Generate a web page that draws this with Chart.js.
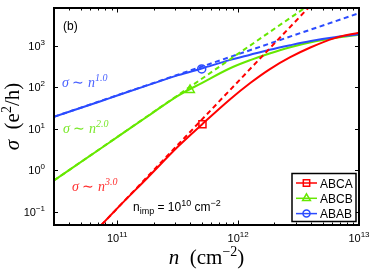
<!DOCTYPE html>
<html>
<head>
<meta charset="utf-8">
<script src="https://cdn.jsdelivr.net/npm/chart.js@4.4.0/dist/chart.umd.min.js"></script>
<style>
  html, body { margin: 0; padding: 0; background: #fff; }
</style>
</head>
<body>
<canvas id="chart" width="374" height="272"></canvas>
<script>
// carrier density n (cm^-2) and conductivity sigma (e^2/h)
const densities = [3e10, 7.4e10, 1e11, 1.8e11, 3.2e11, 5e11, 8.5e11, 1.26e12, 1.82e12, 2.7e12, 4e12, 6.3e12, 1e13];
const sigmaABCA = [null, 0.049, 0.123, 0.69, 3.8, 12.6, 50, 126, 269, 525, 912, 1514, 2042];
const sigmaABCB = [0.575, 3.47, 6.31, 20.4, 63.1, 126, 282, 447, 646, 912, 1202, 1514, 1820];
const sigmaABAB = [19.5, 46.8, 63.1, 112, 195, 282, 447, 603, 794, 1023, 1288, 1585, 1862];

// dashed power-law guides (end points)
const fitABCA_n = [7.4e10, 3.8e12], fitABCA_s = [0.049, 8000];
const fitABCB_n = [3e10, 3.55e12], fitABCB_s = [0.575, 8000];
const fitABAB_n = [3e10, 1e13],    fitABAB_s = [19.5, 6000];

// one marker per curve
const markerN = [5.07e11, 4e11, 5e11];
const markerSigma = [12.9, 86, 275];

const seriesNames = ['ABCA', 'ABCB', 'ABAB'];
const powerLabels = ['3.0', '2.0', '1.0'];
const xDecades = [11, 12, 13];
const yDecades = [-1, 0, 1, 2, 3];

const colors = ['#ff0000', '#66e800', '#2b4bff'];
const textColors = ['#ff3030', '#7ae82a', '#4a62ff'];
const pointStyles = ['rect', 'triangle', 'circle'];
const pointSizes = [5, 5, 4];

const SANS = '"Liberation Sans", Arial, sans-serif';
const SERIF = '"Liberation Serif", "Times New Roman", serif';

function pts(xs, ys) {
    return xs.map((v, i) => ({ x: v, y: ys[i] }));
}

const solids = [sigmaABCA, sigmaABCB, sigmaABAB];
const fitsN = [fitABCA_n, fitABCB_n, fitABAB_n];
const fitsS = [fitABCA_s, fitABCB_s, fitABAB_s];

const datasets = [];
// markers (drawn on top)
seriesNames.forEach((name, i) => {
    datasets.push({
        label: name + ' marker',
        data: [{ x: markerN[i], y: markerSigma[i] }],
        showLine: false,
        pointStyle: pointStyles[i],
        pointRadius: pointSizes[i],
        pointBorderColor: colors[i],
        pointBackgroundColor: 'rgba(255,255,255,0)',
        pointBorderWidth: 1.5
    });
});
// dashed guides
seriesNames.forEach((name, i) => {
    datasets.push({
        label: name + ' fit',
        data: pts(fitsN[i], fitsS[i]),
        borderColor: colors[i],
        borderWidth: 2,
        borderDash: [5, 3.5],
        pointRadius: 0,
        fill: false
    });
});
// solid curves (blue above green)
[0, 2, 1].forEach(i => {
    datasets.push({
        label: seriesNames[i],
        data: pts(densities, solids[i]),
        borderColor: colors[i],
        borderWidth: 2,
        pointRadius: 0,
        fill: false,
        cubicInterpolationMode: 'monotone'
    });
});

function drawRuns(ctx, runs, x, y, align) {
    let total = 0;
    runs.forEach(r => { ctx.font = r.font; r.w = ctx.measureText(r.text).width; total += r.w; });
    let cx = align === 'right' ? x - total : align === 'center' ? x - total / 2 : x;
    ctx.textAlign = 'left';
    ctx.textBaseline = 'alphabetic';
    runs.forEach(r => {
        ctx.font = r.font;
        ctx.fillStyle = r.color || '#000';
        ctx.fillText(r.text, cx, y + (r.dy || 0));
        cx += r.w;
    });
}

function powRuns(exp) {
    return [
        { text: '10', font: '11px ' + SANS },
        { text: exp, font: '8px ' + SANS, dy: -5 }
    ];
}

const decorations = {
    id: 'decorations',
    afterDatasetsDraw(chart) {
        const { ctx, chartArea: a, scales } = chart;
        const xs = scales.x, ys = scales.y;
        ctx.save();

        // frame
        ctx.strokeStyle = '#000';
        ctx.lineWidth = 2;
        ctx.strokeRect(a.left, a.top, a.right - a.left, a.bottom - a.top);

        // x ticks, inward on bottom and top
        ctx.lineWidth = 1;
        ctx.beginPath();
        for (let d = 10; d <= 12; d++) {
            for (let m = 1; m <= 9; m++) {
                const v = m * Math.pow(10, d);
                if (v <= xs.min || v >= xs.max) continue;
                const px = Math.round(xs.getPixelForValue(v)) + 0.5;
                const len = m === 1 ? 4.5 : 2.5;
                ctx.moveTo(px, a.bottom); ctx.lineTo(px, a.bottom - len);
                ctx.moveTo(px, a.top); ctx.lineTo(px, a.top + len);
            }
        }
        // y ticks (decades only), inward on left and right
        yDecades.forEach(e => {
            const py = Math.round(ys.getPixelForValue(Math.pow(10, e))) + 0.5;
            ctx.moveTo(a.left, py); ctx.lineTo(a.left + 4, py);
            ctx.moveTo(a.right, py); ctx.lineTo(a.right - 4, py);
        });
        ctx.stroke();

        // tick labels
        yDecades.forEach(e => {
            const py = ys.getPixelForValue(Math.pow(10, e));
            drawRuns(ctx, powRuns(String(e).replace('-', '\u2212')), a.left - 9, py + 4, 'right');
        });
        xDecades.forEach(e => {
            const px = xs.getPixelForValue(Math.pow(10, e));
            drawRuns(ctx, powRuns(String(e)), px, a.bottom + 17, 'center');
        });

        // axis titles
        drawRuns(ctx, [
            { text: 'n', font: 'italic 21px ' + SERIF },
            { text: '  (cm', font: '21px ' + SERIF },
            { text: '\u22122', font: '14px ' + SERIF, dy: -8 },
            { text: ')', font: '21px ' + SERIF }
        ], (a.left + a.right) / 2, 264, 'center');

        ctx.save();
        ctx.translate(19, (a.top + a.bottom) / 2);
        ctx.rotate(-Math.PI / 2);
        drawRuns(ctx, [
            { text: '\u03c3', font: 'italic 21px ' + SERIF },
            { text: '  (e', font: '21px ' + SERIF },
            { text: '2', font: '14px ' + SERIF, dy: -8 },
            { text: '/h)', font: '21px ' + SERIF }
        ], 0, 0, 'center');
        ctx.restore();

        // panel tag
        drawRuns(ctx, [{ text: '(b)', font: '12px ' + SANS }], a.left + 9, a.top + 22, 'left');

        // power-law annotations
        const annX = [72, 63, 62];
        const annY = [191, 133, 87];
        seriesNames.forEach((name, i) => {
            drawRuns(ctx, [
                { text: '\u03c3', font: 'italic 14px ' + SERIF, color: textColors[i] },
                { text: ' \u223c ', font: '14px ' + SERIF, color: textColors[i] },
                { text: 'n', font: 'italic 14px ' + SERIF, color: textColors[i] },
                { text: powerLabels[i], font: 'italic 10px ' + SERIF, color: textColors[i], dy: -6 }
            ], annX[i], annY[i], 'left');
        });

        // impurity density note
        drawRuns(ctx, [
            { text: 'n', font: '12px ' + SANS },
            { text: 'imp', font: '9px ' + SANS, dy: 3 },
            { text: ' = 10', font: '12px ' + SANS },
            { text: '10', font: '9px ' + SANS, dy: -5 },
            { text: ' cm', font: '12px ' + SANS },
            { text: '\u22122', font: '9px ' + SANS, dy: -5 }
        ], 133, 211, 'left');

        // legend box
        const lx = 292, ly = 173.5, lw = 64, lh = 48;
        ctx.fillStyle = '#fff';
        ctx.fillRect(lx, ly, lw, lh);
        ctx.strokeStyle = '#000';
        ctx.lineWidth = 1.5;
        ctx.strokeRect(lx, ly, lw, lh);
        seriesNames.forEach((name, i) => {
            const ry = 183 + i * 15.3;
            ctx.strokeStyle = colors[i];
            ctx.lineWidth = 1.5;
            ctx.beginPath();
            ctx.moveTo(296, ry); ctx.lineTo(317, ry);
            ctx.stroke();
            ctx.fillStyle = 'rgba(255,255,255,0)';
            Chart.helpers.drawPoint(ctx, {
                pointStyle: pointStyles[i], radius: pointSizes[i] - 0.5, rotation: 0, borderWidth: 1.5
            }, 306.5, ry);
            drawRuns(ctx, [{ text: name, font: '12px ' + SANS }], 320, ry + 4.5, 'left');
        });

        ctx.restore();
    }
};

new Chart(document.getElementById('chart').getContext('2d'), {
    type: 'line',
    data: { datasets: datasets },
    options: {
        responsive: false,
        animation: false,
        devicePixelRatio: 1,
        layout: { padding: { top: 8, right: 15, left: 0, bottom: 0 } },
        plugins: { legend: { display: false }, tooltip: { enabled: false } },
        scales: {
            x: {
                type: 'logarithmic',
                min: 3e10,
                max: 1e13,
                grid: { display: false },
                border: { display: false },
                ticks: { display: false },
                afterFit: s => { s.height = 47; }
            },
            y: {
                type: 'logarithmic',
                min: 0.049,
                max: 8000,
                grid: { display: false },
                border: { display: false },
                ticks: { display: false },
                afterFit: s => { s.width = 54; }
            }
        }
    },
    plugins: [decorations]
});
</script>
</body>
</html>
